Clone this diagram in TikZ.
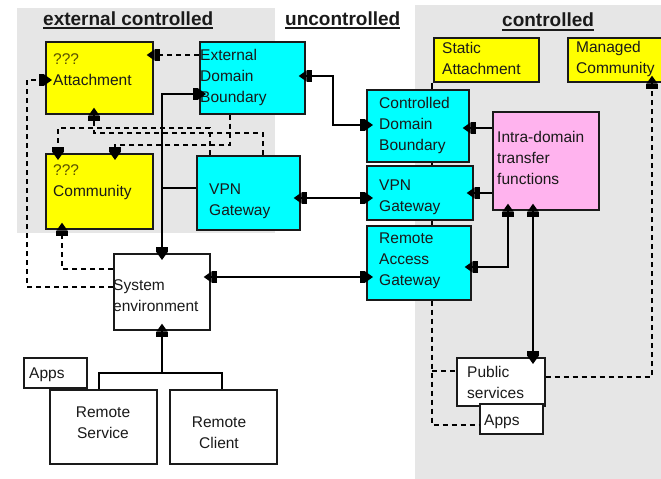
\documentclass[tikz,border=0pt]{standalone}
\usepackage{fontspec}
\setmainfont{Liberation Sans}
\usetikzlibrary{arrows.meta,calc}

\definecolor{zonegrey}{HTML}{E6E6E6}
\definecolor{boxyellow}{HTML}{FFFF00}
\definecolor{boxcyan}{HTML}{00FFFF}
\definecolor{boxpink}{HTML}{FFB3EE}
\definecolor{inkdark}{HTML}{1A1A1A}
\definecolor{qmark}{HTML}{5A5200}

\begin{document}
\begin{tikzpicture}[x=1pt,y=-1pt,
  box/.style={draw=inkdark, line width=1.7pt, inner sep=0pt, anchor=north west},
  txt/.style={font=\fontsize{15.5}{21}\selectfont, inner sep=0pt, align=left,
              anchor=north west, text=inkdark},
  ctxt/.style={txt, align=center, anchor=north},
  ttl/.style={font=\fontsize{19}{22}\selectfont\bfseries, inner sep=0pt,
              anchor=base west, text=inkdark},
  uline/.style={line width=1.8pt, draw=inkdark},
  ln/.style={line width=1.4pt, draw=black},
  dsh/.style={ln, dash pattern=on 5pt off 4pt},
  arrE/.style={-{Rectangle[length=5pt,width=12pt] Triangle[length=8pt,width=11pt]},
               shorten >=-7pt},
  arrB/.style={{Triangle[length=8pt,width=11pt] Rectangle[length=5pt,width=12pt]}-{Rectangle[length=5pt,width=12pt] Triangle[length=8pt,width=11pt]},
               shorten >=-7pt, shorten <=-7pt}
]
\useasboundingbox (0,0) rectangle (661,479);
\fill[white] (0,0) rectangle (661,479);

% zones
\fill[zonegrey] (17,8) rectangle (275,233);
\fill[zonegrey] (415,5) rectangle (661,479);

% zone titles
\node[ttl] (t1) at (43,25) {external controlled};
\node[ttl] (t2) at (285,25) {uncontrolled};
\node[ttl] (t3) at (502,27) {controlled};
\foreach \t in {t1,t2,t3}
  \draw[uline] ($(\t.base west)+(0,3)$) -- ($(\t.base east)+(0,3)$);

% external controlled boxes
\node[box, fill=boxyellow, minimum width=107pt, minimum height=72pt] (att) at (45,41) {};
\node[box, fill=boxcyan,   minimum width=105pt, minimum height=72pt] (edb) at (199,41) {};
\node[box, fill=boxyellow, minimum width=107pt, minimum height=75pt] (com) at (45,153) {};
\node[box, fill=boxcyan,   minimum width=103pt, minimum height=74pt] (vpnL) at (196,155) {};

% controlled boxes
\node[box, fill=boxyellow, minimum width=105pt, minimum height=44pt] (sta) at (433,37) {};
\node[box, fill=boxyellow, minimum width=96pt,  minimum height=44pt] (mgc) at (567,37) {};
\node[box, fill=boxcyan,   minimum width=102pt, minimum height=72pt] (cdb) at (366,89) {};
\node[box, fill=boxcyan,   minimum width=106pt, minimum height=54pt] (vpnR) at (366,165) {};
\node[box, fill=boxcyan,   minimum width=104pt, minimum height=74pt] (rag) at (366,225) {};
\node[box, fill=boxpink,   minimum width=106pt, minimum height=98pt] (intra) at (492,111) {};
\node[box, fill=white,     minimum width=88pt,  minimum height=48pt] (pub) at (456,357) {};
\node[box, fill=white,     minimum width=63pt,  minimum height=30pt] (appsR) at (479,403) {};

% uncontrolled boxes
\node[box, fill=white, minimum width=96pt,  minimum height=76pt] (sys) at (113,253) {};
\node[box, fill=white, minimum width=63pt,  minimum height=30pt] (appsL) at (23,357) {};
\node[box, fill=white, minimum width=107pt, minimum height=74pt] (rs) at (49,389) {};
\node[box, fill=white, minimum width=107pt, minimum height=74pt] (rc) at (169,389) {};

% box texts
\node[txt] (att-t)   at (53,49.3)   {\strut{\color{qmark}???}\\\strut Attachment};
\node[txt] (com-t)   at (53,160.3)  {\strut{\color{qmark}???}\\\strut Community};
\node[txt] (edb-t)   at (200,45.3)  {\strut External\\\strut Domain\\\strut Boundary};
\node[txt] (vpnL-t)  at (209,179.3) {\strut VPN\\\strut Gateway};
\node[txt] (cdb-t)   at (379,93.3)  {\strut Controlled\\\strut Domain\\\strut Boundary};
\node[txt] (vpnR-t)  at (379,175.3) {\strut VPN\\\strut Gateway};
\node[txt] (rag-t)   at (379,228.3) {\strut Remote\\\strut Access\\\strut Gateway};
\node[txt] (sta-t)   at (442,38.3)  {\strut Static\\\strut Attachment};
\node[txt] (mgc-t)   at (576,37.3)  {\strut Managed\\\strut Community};
\node[txt] (intra-t) at (497,127.3) {\strut Intra-domain\\\strut transfer\\\strut functions};
\node[txt] (sys-t)   at (113,275.3) {\strut System\\\strut environment};
\node[txt] (appsL-t) at (29,363.3)  {\strut Apps};
\node[ctxt] (rs-t)   at (103,402.3) {\strut Remote\\\strut Service};
\node[ctxt] (rc-t)   at (219,412.3) {\strut Remote\\\strut Client};
\node[txt] (pub-t)   at (467,362.3) {\strut Public\\\strut services};
\node[txt] (appsR-t) at (484,410.3) {\strut Apps};

% bend points
\coordinate (j1) at (162,188);
\coordinate (j2) at (162,94);
\coordinate (j3) at (162,373);

% external controlled links
\draw[dsh, arrE] (edb.west |- 0,55) -- (att.east |- 0,55);
\draw[ln, arrE] (vpnL.west |- j1) -- (j1) -- (j2) -- (edb.west |- j2);
\draw[ln, arrE] (j2) -- (sys.north -| j2);
\draw[dsh, arrE] (sys.west |- 0,287) -- (27,287) -- (27,80) -- (att.west |- 0,80);
\draw[dsh, arrE] (sys.west |- 0,269) -- (62,269) -- (com.south -| 62,0);
\draw[dsh, arrE] (vpnL.north -| 210,0) -- (210,128) -- (58,128) -- (com.north -| 58,0);
\draw[dsh, arrE] (vpnL.north -| 263,0) -- (263,133) -- (94,133) -- (att.south -| 94,0);
\draw[dsh, arrE] (edb.south -| 230,0) -- (230,145) -- (115,145) -- (com.north -| 115,0);

% links across the uncontrolled zone
\draw[ln, arrB] (edb.east |- 0,76) -- (333,76) -- (333,125) -- (cdb.west |- 0,125);
\draw[ln, arrB] (vpnL.east |- 0,198) -- (vpnR.west |- 0,198);
\draw[ln, arrB] (sys.east |- 0,277) -- (rag.west |- 0,277);

% controlled stack
\draw[ln] (sta.south -| 432,0) -- (cdb.north -| 432,0);
\draw[ln] (cdb.south -| 432,0) -- (vpnR.north -| 432,0);
\draw[ln] (vpnR.south -| 432,0) -- (rag.north -| 432,0);
\draw[ln, arrE] (intra.west |- 0,128) -- (cdb.east |- 0,128);
\draw[ln, arrE] (intra.west |- 0,193) -- (vpnR.east |- 0,193);
\draw[ln, arrB] (intra.south -| 508,0) -- (508,267) -- (rag.east |- 0,267);
\draw[ln, arrB] (intra.south -| 533,0) -- (pub.north -| 533,0);
\draw[dsh, arrE] (pub.east |- 0,377) -- (652,377) -- (mgc.south -| 652,0);
\draw[dsh] (rag.south -| 432,0) -- (432,425) -- (appsR.west |- 0,425);
\draw[dsh] (432,371) -- (pub.west |- 0,371);

% remote endpoints
\draw[ln, arrE] (j3) -- (sys.south -| j3);
\draw[ln] (rs.north -| 99,0) -- (99,373) -- (222,373) -- (rc.north -| 222,0);
\end{tikzpicture}
\end{document}
